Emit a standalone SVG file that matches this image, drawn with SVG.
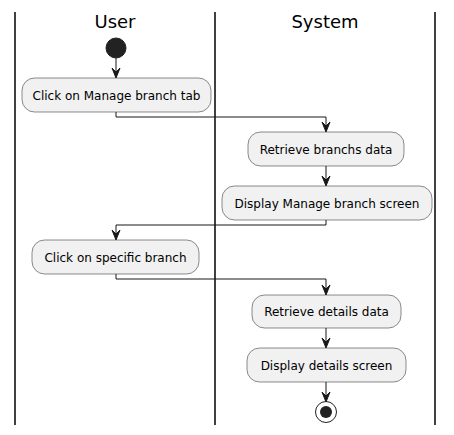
<svg xmlns="http://www.w3.org/2000/svg" width="454" height="435" viewBox="0 0 454 435">
<style>
.lane{stroke:#000;stroke-width:1.5}
.title{font-family:"DejaVu Sans",sans-serif;font-size:18px;fill:#000;text-anchor:middle}
.box{fill:#F1F1F1;stroke:#181818;stroke-width:0.5}
.lbl{font-family:"DejaVu Sans",sans-serif;font-size:12px;fill:#000;text-anchor:middle}
.edge{fill:none;stroke:#181818;stroke-width:1}
.head{fill:#181818;stroke:#181818;stroke-width:1}
</style>
<rect width="454" height="435" fill="#fff"/>
<g id="lanes">
<line class="lane" x1="15" y1="12" x2="15" y2="425"/>
<line class="lane" x1="215" y1="12" x2="215" y2="425"/>
<line class="lane" x1="435" y1="12" x2="435" y2="425"/>
<text class="title" x="115" y="28">User</text>
<text class="title" x="325" y="28">System</text>
</g>
<g id="connectors">
<line class="edge" x1="116" y1="58" x2="116" y2="76"/>
<polygon class="head" points="112,68 116,78 120,68 116,72"/>
<polyline class="edge" points="116,112 116,117 326,117 326,130"/>
<polygon class="head" points="322,122 326,132 330,122 326,126"/>
<line class="edge" x1="326" y1="166" x2="326" y2="184"/>
<polygon class="head" points="322,176 326,186 330,176 326,180"/>
<polyline class="edge" points="326,220 326,225 116,225 116,238"/>
<polygon class="head" points="112,230 116,240 120,230 116,234"/>
<polyline class="edge" points="116,274 116,279 326,279 326,293"/>
<polygon class="head" points="322,285 326,295 330,285 326,289"/>
<line class="edge" x1="326" y1="328" x2="326" y2="346"/>
<polygon class="head" points="322,338 326,348 330,338 326,342"/>
<line class="edge" x1="326" y1="382" x2="326" y2="400"/>
<polygon class="head" points="322,392 326,402 330,392 326,396"/>
</g>
<g id="start">
<circle cx="116" cy="48" r="10" fill="#222" stroke="#222"/>
</g>
<g id="n1">
<rect class="box" x="22" y="78" width="189" height="34" rx="12.5"/>
<text class="lbl" x="116.5" y="100">Click on Manage branch tab</text>
</g>
<g id="n2">
<rect class="box" x="248" y="132" width="156" height="34" rx="12.5"/>
<text class="lbl" x="326" y="154">Retrieve branchs data</text>
</g>
<g id="n3">
<rect class="box" x="222" y="186" width="210" height="34" rx="12.5"/>
<text class="lbl" x="327" y="208">Display Manage branch screen</text>
</g>
<g id="n4">
<rect class="box" x="32" y="240" width="167" height="34" rx="12.5"/>
<text class="lbl" x="115.5" y="262">Click on specific branch</text>
</g>
<g id="n5">
<rect class="box" x="252" y="295" width="149" height="33" rx="12.5"/>
<text class="lbl" x="326.5" y="316">Retrieve details data</text>
</g>
<g id="n6">
<rect class="box" x="247" y="348" width="159" height="34" rx="12.5"/>
<text class="lbl" x="326.5" y="370">Display details screen</text>
</g>
<g id="end">
<circle cx="326" cy="412" r="10.5" fill="none" stroke="#222" stroke-width="1"/>
<circle cx="326" cy="412" r="6" fill="#222"/>
</g>
</svg>
